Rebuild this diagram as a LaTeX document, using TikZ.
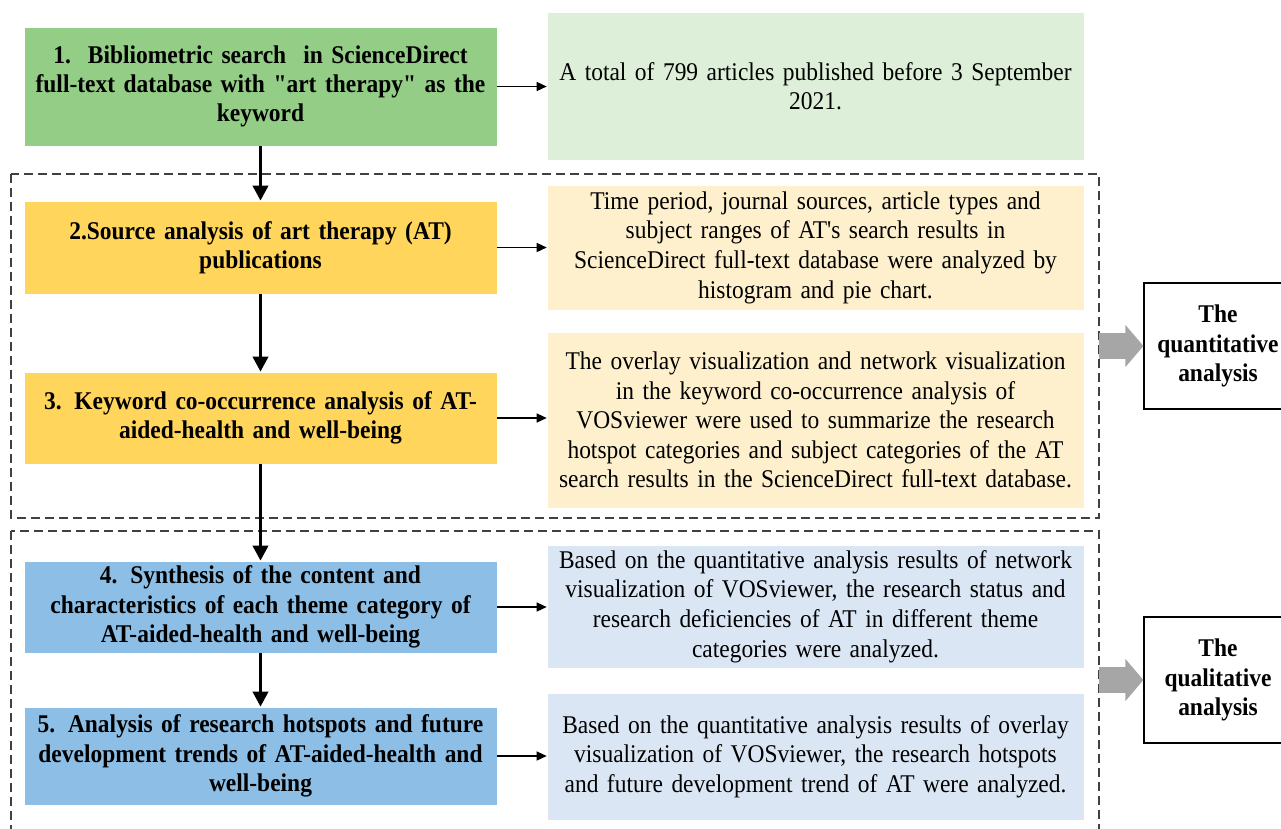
\documentclass[tikz,border=0pt]{standalone}
\usepackage{fontspec}
\setmainfont{Liberation Serif}[FakeStretch=0.92, Ligatures=TeXOff]
\usetikzlibrary{arrows.meta,fit}
\definecolor{cgreen}{HTML}{93CD86}
\definecolor{lgreen}{HTML}{DDEFD8}
\definecolor{cyellow}{HTML}{FFD55B}
\definecolor{lyellow}{HTML}{FEF0CD}
\definecolor{cblue}{HTML}{8DBFE6}
\definecolor{lblue}{HTML}{DAE6F4}
\definecolor{garrow}{HTML}{A6A6A6}
\definecolor{dashc}{HTML}{404040}
\tikzset{
  lbox/.style={minimum width=473pt, text width=466pt, align=center, inner sep=0pt,
    font=\fontsize{25.5}{29.3}\selectfont\bfseries, draw=white, line width=0.6pt},
  rbox/.style={minimum width=537pt, text width=530pt, align=center, inner sep=0pt,
    font=\fontsize{25.5}{29.6}\selectfont, draw=white, line width=0.6pt},
  sidebox/.style={draw=black, line width=1.1pt, minimum width=148pt, minimum height=126pt,
    align=center, inner sep=0pt, font=\fontsize{25.5}{29.6}\selectfont\bfseries},
  vflow/.style={line width=3.5pt, -{Triangle[width=15pt,length=15pt]}},
  hflow/.style={line width=1.3pt, -{Triangle[width=9pt,length=10pt]}},
  group/.style={draw=dashc, line width=1.3pt, dash pattern=on 9pt off 5pt},
  bigarrow/.style={draw=garrow, line width=26pt, -{Triangle[width=41pt,length=18pt]}}
}
\begin{document}
\begin{tikzpicture}[x=1pt,y=-1pt]
\useasboundingbox (0,0) rectangle (1281,828);
\clip (0,0) rectangle (1281,828);
% left boxes
\node[lbox, fill=cgreen, minimum height=119pt] (b1) at (260.5,86.5)
  {1.\ \ Bibliometric search\ \ in ScienceDirect\\full-text database with "art therapy" as the\\keyword};
\node[lbox, fill=cyellow, minimum height=93pt] (b2) at (260.5,247.5)
  {2.Source analysis of art therapy (AT)\\publications};
\node[lbox, fill=cyellow, minimum height=92pt] (b3) at (260.5,418)
  {3. Keyword co-occurrence analysis of AT-\\aided-health and well-being};
\node[lbox, fill=cblue, minimum height=92pt] (b4) at (260.5,607)
  {4. Synthesis of the content and\\characteristics of each theme category of\\AT-aided-health and well-being};
\node[lbox, fill=cblue, minimum height=98pt] (b5) at (260.5,756)
  {5. Analysis of research hotspots and future\\development trends of AT-aided-health and\\well-being};
% right boxes
\node[rbox, fill=lgreen, minimum height=148pt] (r1) at (815.5,86)
  {A total of 799 articles published before 3 September\\2021.};
\node[rbox, fill=lyellow, minimum height=125pt] (r2) at (815.5,247.5)
  {Time period, journal sources, article types and\\subject ranges of AT's search results in\\ScienceDirect full-text database were analyzed by\\histogram and pie chart.};
\node[rbox, fill=lyellow, minimum height=176pt] (r3) at (815.5,420)
  {The overlay visualization and network visualization\\in the keyword co-occurrence analysis of\\VOSviewer were used to summarize the research\\hotspot categories and subject categories of the AT\\search results in the ScienceDirect full-text database.};
\node[rbox, fill=lblue, minimum height=123pt] (r4) at (815.5,606.5)
  {Based on the quantitative analysis results of network\\visualization of VOSviewer, the research status and\\research deficiencies of AT in different theme\\categories were analyzed.};
\node[rbox, fill=lblue, minimum height=127pt] (r5) at (815.5,756.5)
  {Based on the quantitative analysis results of overlay\\visualization of VOSviewer, the research hotspots\\and future development trend of AT were analyzed.};
% dashed groups
\coordinate (g1a) at (11,174);
\coordinate (g1b) at (1099,518);
\coordinate (g2a) at (11,531);
\coordinate (g2b) at (1099,845);
\draw[group] (g1a) rectangle (g1b);
\draw[group] (g2a) rectangle (g2b);
% side boxes
\node[sidebox] (q1) at (1218,346) {The\\quantitative\\analysis};
\node[sidebox] (q2) at (1218,680) {The\\qualitative\\analysis};
% flows
\draw[vflow] (b1.south) -- (b2.north);
\draw[vflow] (b2.south) -- (b3.north);
\draw[vflow] (b3.south) -- (b4.north);
\draw[vflow] (b4.south) -- (b5.north);
\foreach \i in {1,...,5}{\draw[hflow] (b\i.east) -- (r\i.west |- b\i.east);}
\draw[bigarrow] (g1b |- q1.west) -- (q1.west);
\draw[bigarrow] (g2b |- q2.west) -- (q2.west);
\end{tikzpicture}
\end{document}
